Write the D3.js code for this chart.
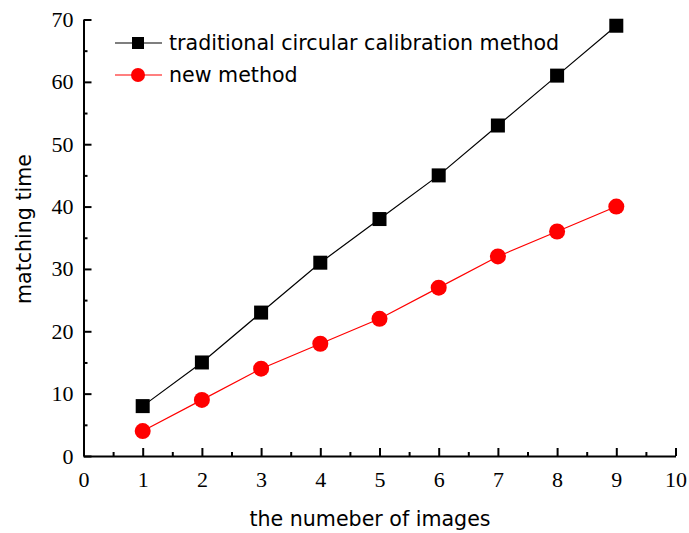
<!DOCTYPE html>
<html>
<head>
<meta charset="utf-8" />
<script src="https://d3js.org/d3.v7.min.js"></script>
<style>
  body { margin: 0; background: #fff; }
  .tick text { font-family: "Liberation Serif", serif; font-size: 22px; fill: #000; }
  .title { font-family: "DejaVu Sans", sans-serif; font-size: 20.6px; fill: #000; }
</style>
</head>
<body>
<svg id="chart" width="689" height="533"></svg>
<script>
// data
var images = [1, 2, 3, 4, 5, 6, 7, 8, 9];
var traditional = [8, 15, 23, 31, 38, 45, 53, 61, 69];
var newMethod = [4, 9, 14, 18, 22, 27, 32, 36, 40];
var xTicks = [0, 1, 2, 3, 4, 5, 6, 7, 8, 9, 10];
var yTicks = [0, 10, 20, 30, 40, 50, 60, 70];

var svg = d3.select("#chart");

var x = d3.scaleLinear().domain([0, 10]).range([83.5, 675.5]);
var y = d3.scaleLinear().domain([0, 70]).range([456, 19.5]);

// minor ticks (inward, short)
var xMinor = d3.range(0.5, 10, 1);
var yMinor = d3.range(5, 70, 10);

svg.append("g")
  .attr("transform", "translate(0," + y(0) + ")")
  .call(d3.axisBottom(x).tickValues(xMinor).tickSize(-4).tickFormat(""))
  .call(g => g.select(".domain").remove())
  .selectAll("line").attr("stroke-width", 2);

svg.append("g")
  .attr("transform", "translate(" + x(0) + ",0)")
  .call(d3.axisLeft(y).tickValues(yMinor).tickSize(-4).tickFormat(""))
  .call(g => g.select(".domain").remove())
  .selectAll("line").attr("stroke-width", 2);

// major axes
var xAxis = svg.append("g")
  .attr("transform", "translate(0," + y(0) + ")")
  .call(d3.axisBottom(x).tickValues(xTicks).tickSizeInner(-8).tickSizeOuter(0).tickPadding(15).tickFormat(d3.format("d")));
xAxis.selectAll("line, path").attr("stroke-width", 2);

var yAxis = svg.append("g")
  .attr("transform", "translate(" + x(0) + ",0)")
  .call(d3.axisLeft(y).tickValues(yTicks).tickSizeInner(-8).tickSizeOuter(0).tickPadding(10).tickFormat(d3.format("d")));
yAxis.selectAll("line, path").attr("stroke-width", 2);

// series
var line = d3.line().x((d, i) => x(images[i])).y(d => y(d));

svg.append("path").datum(traditional)
  .attr("d", line).attr("fill", "none").attr("stroke", "#000").attr("stroke-width", 1.2);
svg.append("path").datum(newMethod)
  .attr("d", line).attr("fill", "none").attr("stroke", "#ff0000").attr("stroke-width", 1.2);

svg.selectAll(".sq").data(traditional).enter().append("rect")
  .attr("x", (d, i) => x(images[i]) - 7).attr("y", d => y(d) - 7)
  .attr("width", 14).attr("height", 14).attr("fill", "#000");

svg.selectAll(".ci").data(newMethod).enter().append("circle")
  .attr("cx", (d, i) => x(images[i])).attr("cy", d => y(d))
  .attr("r", 8).attr("fill", "#ff0000");

// legend
var leg = svg.append("g");
leg.append("line").attr("x1", 115).attr("x2", 162).attr("y1", 43).attr("y2", 43).attr("stroke", "#000").attr("stroke-width", 1.2);
leg.append("rect").attr("x", 132).attr("y", 37).attr("width", 12).attr("height", 12).attr("fill", "#000");
leg.append("text").attr("class", "title").attr("x", 169).attr("y", 50).text("traditional circular calibration method");
leg.append("line").attr("x1", 115).attr("x2", 162).attr("y1", 75).attr("y2", 75).attr("stroke", "#ff0000").attr("stroke-width", 1.2);
leg.append("circle").attr("cx", 138).attr("cy", 75).attr("r", 7).attr("fill", "#ff0000");
leg.append("text").attr("class", "title").attr("x", 169).attr("y", 82).text("new method");

// axis titles
svg.append("text").attr("class", "title").attr("text-anchor", "middle")
  .attr("x", 370).attr("y", 526).text("the numeber of images");
svg.append("text").attr("class", "title").attr("text-anchor", "middle")
  .attr("transform", "translate(31," + 229 + ") rotate(-90)").text("matching time");
</script>
</body>
</html>
